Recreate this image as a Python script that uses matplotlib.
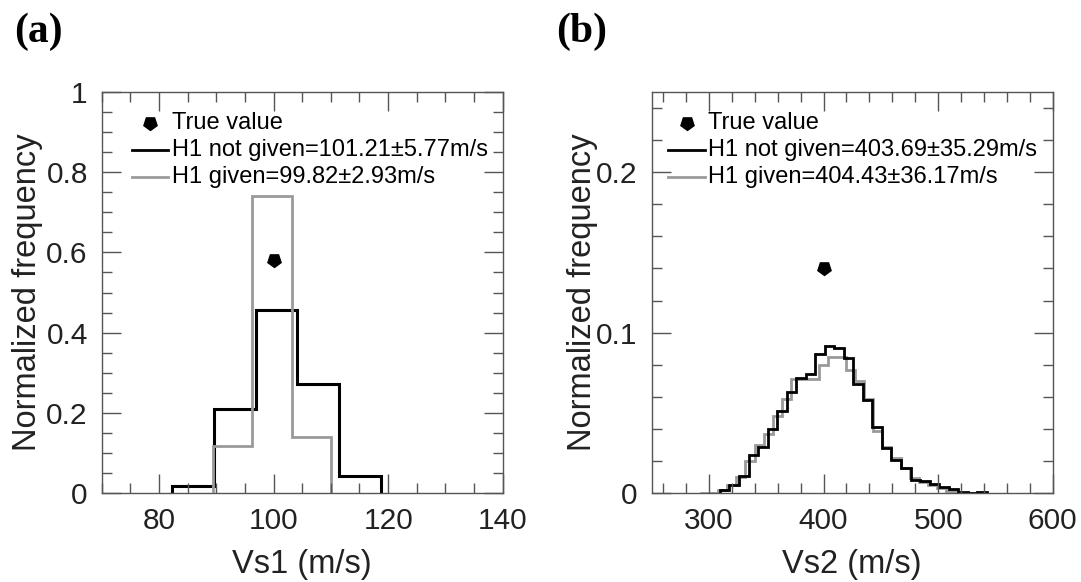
import numpy as np
import matplotlib
matplotlib.use("Agg")
import matplotlib.pyplot as plt
from matplotlib.ticker import FixedLocator, MultipleLocator, FuncFormatter

# ---------------- data ----------------
# Panel (a): Vs1
vs1_true = 100.0
vs1_true_y = 0.58
vs1_black_edges = [82.3, 89.6, 96.9, 104.1, 111.4, 118.7]
vs1_black_vals = [0.018, 0.210, 0.456, 0.273, 0.042]
vs1_gray_edges = [89.4, 96.3, 103.2, 110.1]
vs1_gray_vals = [0.118, 0.740, 0.141]
vs1_labels = ["True value",
              "H1 not given=101.21\u00b15.77m/s",
              "H1 given=99.82\u00b12.93m/s"]

# Panel (b): Vs2
vs2_true = 400.0
vs2_true_y = 0.14
vs2_black_edges = [309.5, 317.8, 326.1, 334.5, 342.8, 351.1, 359.4, 367.7,
                   376.1, 384.4, 392.7, 401.0, 409.3, 417.7, 426.0, 434.3,
                   442.6, 450.9, 459.3, 467.6, 475.9, 484.2, 492.5, 500.8,
                   509.2, 517.5, 525.8, 534.1, 542.4]
vs2_black_vals = [0.002, 0.005, 0.011, 0.024, 0.029, 0.040, 0.051, 0.063,
                  0.072, 0.074, 0.087, 0.0915, 0.0905, 0.084, 0.068, 0.058,
                  0.0415, 0.028, 0.021, 0.0156, 0.0085, 0.0075, 0.006, 0.004,
                  0.0025, 0.001, 0.0, 0.0005]
vs2_gray_edges = [292.0, 300.0, 308.0, 315.9, 323.9, 331.8, 339.8, 347.8,
                  355.7, 363.7, 371.7, 379.6, 387.6, 395.6, 403.5, 411.5,
                  419.5, 427.4, 435.4, 443.4, 451.3, 459.3, 467.3, 475.2,
                  483.2, 491.2, 499.1, 507.1, 515.1, 523.0, 531.0]
vs2_gray_vals = [0.0004, 0.0004, 0.002, 0.005, 0.010, 0.020, 0.030, 0.037,
                 0.048, 0.059, 0.071, 0.071, 0.071, 0.080, 0.085, 0.085,
                 0.077, 0.070, 0.059, 0.039, 0.029, 0.022, 0.0156, 0.0093,
                 0.0073, 0.005, 0.003, 0.0015, 0.0004, 0.0004]
vs2_labels = ["True value",
              "H1 not given=403.69\u00b135.29m/s",
              "H1 given=404.43\u00b136.17m/s"]

# ---------------- style ----------------
SANS = ["Liberation Sans", "DejaVu Sans"]
plt.rcParams["font.family"] = SANS
BLACK = "#000000"
GRAY = "#9a9a9a"
SPINE = "#555555"
TXT = "#222222"

W, H = 1081, 582
fig = plt.figure(figsize=(W / 100, H / 100), dpi=100)


def px_axes(x0, y0, x1, y1):
    return [x0 / W, 1 - y1 / H, (x1 - x0) / W, (y1 - y0) / H]


def fmt(v, pos):
    return f"{v:g}"


def style_axes(ax, xlim, xmaj, xmin, ylim, ymaj, ymin):
    ax.set_xlim(*xlim)
    ax.set_ylim(*ylim)
    ax.xaxis.set_major_locator(FixedLocator(xmaj))
    ax.xaxis.set_minor_locator(MultipleLocator(xmin))
    ax.yaxis.set_major_locator(FixedLocator(ymaj))
    ax.yaxis.set_minor_locator(MultipleLocator(ymin))
    ax.xaxis.set_major_formatter(FuncFormatter(fmt))
    ax.yaxis.set_major_formatter(FuncFormatter(fmt))
    ax.tick_params(which="both", direction="in", top=True, right=True,
                   color=SPINE, width=1.0, labelcolor=TXT, labelsize=21.5)
    ax.tick_params(which="major", length=14)
    ax.tick_params(which="minor", length=7)
    ax.tick_params(axis="x", which="major", pad=10)
    ax.tick_params(axis="y", which="major", pad=10)
    for s in ax.spines.values():
        s.set_color(SPINE)
        s.set_linewidth(1.0)


def legend(ax, lx0, lx1, mx, tx, labels):
    ys = [0.923, 0.855, 0.788]
    ax.plot([mx], [ys[0]], marker=(5, 0, 180), ms=10, color=BLACK,
            ls="none", transform=ax.transAxes, clip_on=False)
    ax.plot([lx0, lx1], [ys[1]] * 2, color=BLACK, lw=2.0, transform=ax.transAxes)
    ax.plot([lx0, lx1], [ys[2]] * 2, color=GRAY, lw=2.0, transform=ax.transAxes)
    for y, lab in zip(ys, labels):
        ax.text(tx, y, lab, transform=ax.transAxes, fontsize=17, color=BLACK,
                va="center", ha="left")


# ---------------- panel (a) ----------------
ax1 = fig.add_axes(px_axes(101.7, 91.7, 502.7, 493.3))
ax1.stairs(vs1_black_vals, vs1_black_edges, color=BLACK, lw=2.2)
ax1.stairs(vs1_gray_vals, vs1_gray_edges, color=GRAY, lw=2.0)
ax1.plot([vs1_true], [vs1_true_y], marker=(5, 0, 180), ms=10, color=BLACK, ls="none")
style_axes(ax1, (70, 140), [80, 100, 120, 140], 5, (0, 1),
           [0, 0.2, 0.4, 0.6, 0.8, 1.0], 0.05)
ax1.set_xlabel("Vs1 (m/s)", fontsize=23.5, color=TXT, labelpad=10)
ax1.set_ylabel("Normalized frequency", fontsize=23.5, color=TXT)
ax1.yaxis.set_label_coords(-0.147, 0.5)
legend(ax1, 0.0748, 0.1661, 0.1204, 0.1747, vs1_labels)

# ---------------- panel (b) ----------------
ax2 = fig.add_axes(px_axes(651.7, 91.7, 1052.7, 493.3))
ax2.stairs(vs2_gray_vals, vs2_gray_edges, color=GRAY, lw=2.0)
ax2.stairs(vs2_black_vals, vs2_black_edges, color=BLACK, lw=2.0)
ax2.plot([vs2_true], [vs2_true_y], marker=(5, 0, 180), ms=10, color=BLACK, ls="none")
style_axes(ax2, (250, 600), [300, 400, 500, 600], 20, (0, 0.25),
           [0, 0.1, 0.2], 0.02)
ax2.set_xlabel("Vs2 (m/s)", fontsize=23.5, color=TXT, labelpad=10)
ax2.set_ylabel("Normalized frequency", fontsize=23.5, color=TXT)
ax2.yaxis.set_label_coords(-0.133, 0.5)
legend(ax2, 0.0414, 0.1329, 0.0873, 0.1411, vs2_labels)

# ---------------- panel letters ----------------
fig.text(14 / W, 1 - 13 / H, "(a)", fontsize=30, fontweight="bold",
         family=["Liberation Serif", "DejaVu Serif"], va="top", ha="left", color=BLACK)
fig.text(556 / W, 1 - 13 / H, "(b)", fontsize=30, fontweight="bold",
         family=["Liberation Serif", "DejaVu Serif"], va="top", ha="left", color=BLACK)

fig.savefig("out.png", dpi=100)
